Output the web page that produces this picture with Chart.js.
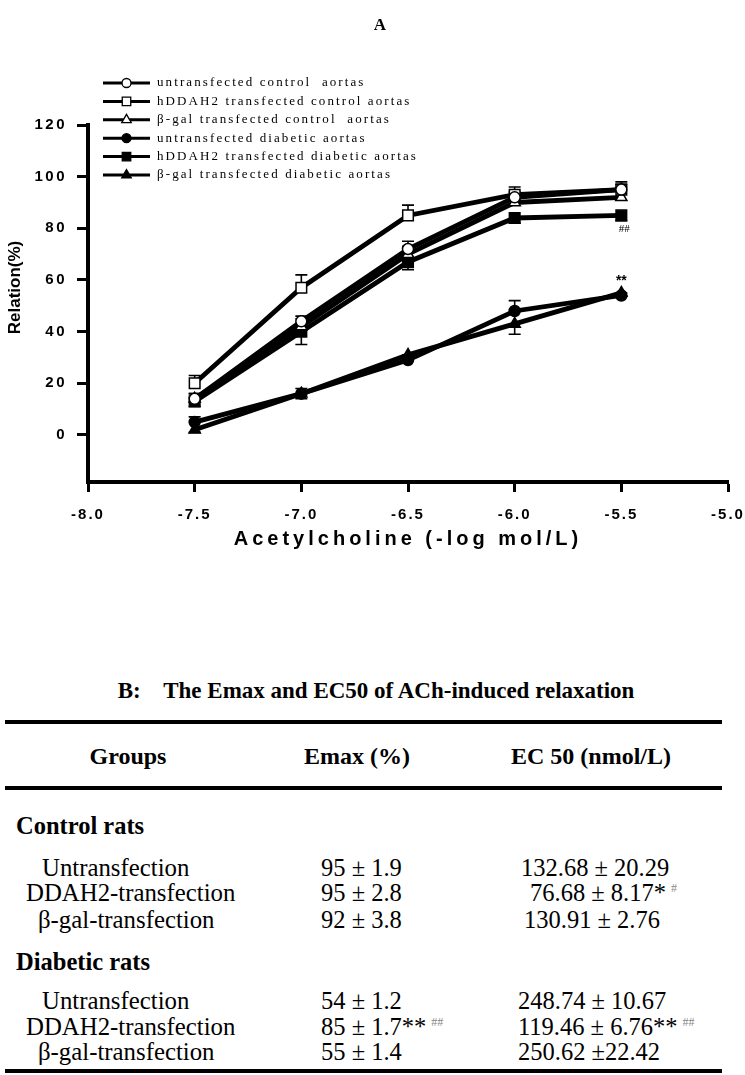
<!DOCTYPE html>
<html><head><meta charset="utf-8">
<script src="https://cdn.jsdelivr.net/npm/chart.js@4.4.1/dist/chart.umd.min.js"></script>
<style>
html,body{margin:0;padding:0;background:#fff;}
body{width:745px;height:1075px;position:relative;overflow:hidden;}
#chartBox{position:absolute;left:0;top:0;width:745px;height:580px;}
.t{position:absolute;white-space:pre;font-family:"Liberation Serif","Times New Roman",serif;color:#000;line-height:1;}
.b{font-weight:bold;}
.rule{position:absolute;left:5px;width:717px;background:#000;}
.sup{color:#888;font-size:12px;position:relative;top:-9px;margin-left:5px;}
</style></head><body>
<div id="chartBox"><canvas id="c" width="745" height="580"></canvas></div>
<div id="table"></div>
<script>
// ---------- data ----------
const doses = [-7.5, -7.0, -6.5, -6.0, -5.5];
const xTicks = [-8.0, -7.5, -7.0, -6.5, -6.0, -5.5, -5.0];
const yTicks = [0, 20, 40, 60, 80, 100, 120];
const seriesNames = ['untransfected control  aortas', 'hDDAH2 transfected control aortas', 'β-gal transfected control  aortas',
                     'untransfected diabetic aortas', 'hDDAH2 transfected diabetic aortas', 'β-gal transfected diabetic aortas'];
const untransControl  = [14, 44, 72, 92, 95];
const ddahControl     = [20, 57, 85, 93, 95];
const bgalControl     = [14, 42, 70, 90, 92];
const untransDiabetic = [5, 16, 29, 48, 54];
const ddahDiabetic    = [13, 40, 67, 84, 85];
const bgalDiabetic    = [2, 16, 31, 43, 55];
const semUntransControl  = [2, 2, 3, 2, 2];
const semDdahControl     = [3, 5, 4, 3, 3];
const semBgalControl     = [2, 3, 3, 2, 4];
const semUntransDiabetic = [2, 2, 2, 4, 1];
const semDdahDiabetic    = [2, 5, 3, 2, 2];
const semBgalDiabetic    = [1, 2, 2, 4, 1];
const errDirection = [1, 1, 1, 1, -1, -1];
const annotText = ['##', '**'];
const annotX = [-5.5, -5.5];
const annotY = [85, 55];
const panelTitle = 'A';

const tableTitle = 'B:    The Emax and EC50 of ACh-induced relaxation';
const tableHeaders = ['Groups', 'Emax (%)', 'EC 50 (nmol/L)'];
const groupNames = ['Control rats', 'Diabetic rats'];
const rowLabels = ['Untransfection', 'DDAH2-transfection', 'β-gal-transfection'];
const emaxControl = ['95 ± 1.9', '95 ± 2.8', '92 ± 3.8'];
const emaxControlMark = ['', '', ''];
const ec50Control = ['132.68 ± 20.29', '76.68 ± 8.17*', '130.91 ± 2.76'];
const ec50ControlMark = ['', '#', ''];
const emaxDiabetic = ['54 ± 1.2', '85 ± 1.7**', '55 ± 1.4'];
const emaxDiabeticMark = ['', '##', ''];
const ec50Diabetic = ['248.74 ± 10.67', '119.46 ± 6.76**', '250.62 ±22.42'];
const ec50DiabeticMark = ['', '##', ''];

// ---------- styles ----------
const seriesValues = [untransControl, ddahControl, bgalControl, untransDiabetic, ddahDiabetic, bgalDiabetic];
const seriesSem = [semUntransControl, semDdahControl, semBgalControl, semUntransDiabetic, semDdahDiabetic, semBgalDiabetic];
const markers = [
  {style:'circle', fill:'#fff', r:5.5, lr:4.5},
  {style:'rect', fill:'#fff', r:7.5, lr:6},
  {style:'triangle', fill:'#fff', r:6.5, lr:5.5},
  {style:'circle', fill:'#000', r:5.5, lr:4.5},
  {style:'rect', fill:'#000', r:7.5, lr:6},
  {style:'triangle', fill:'#000', r:6.5, lr:5.5}
];

const datasets = seriesValues.map((arr, i) => ({
  label: seriesNames[i],
  data: doses.map((d, j) => ({x: d, y: arr[j]})),
  borderColor: '#000',
  borderWidth: 4.8,
  pointStyle: markers[i].style,
  pointRadius: markers[i].r,
  pointBackgroundColor: markers[i].fill,
  pointBorderColor: '#000',
  pointBorderWidth: 1.5,
  tension: 0,
  fill: false
}));

function wrapDraw(scale, fn, spacing, dy) {
  const key = '__w_' + fn;
  if (scale[key]) return;
  const orig = scale[fn];
  scale[fn] = function () {
    const ctx = this.ctx;
    ctx.save();
    if ('letterSpacing' in ctx) ctx.letterSpacing = spacing;
    if (dy) ctx.translate(0, dy);
    orig.apply(this, arguments);
    ctx.restore();
  };
  scale[key] = true;
}

const spacingPlugin = {
  id: 'spacing',
  beforeDraw(chart) {
    wrapDraw(chart.scales.x, 'drawLabels', '2px');
    wrapDraw(chart.scales.x, 'drawTitle', '4px');
    wrapDraw(chart.scales.y, 'drawLabels', '2.5px');
    wrapDraw(chart.scales.y, 'drawTitle', '0px', -16);
  }
};

const errorBarPlugin = {
  id: 'errorBars',
  beforeDatasetsDraw(chart) {
    const {ctx, scales: {x, y}} = chart;
    ctx.save();
    ctx.strokeStyle = '#000';
    ctx.lineWidth = 1.6;
    seriesValues.forEach((arr, i) => {
      arr.forEach((v, j) => {
        const px = x.getPixelForValue(doses[j]);
        const p0 = y.getPixelForValue(v);
        const p1 = y.getPixelForValue(v + errDirection[i] * seriesSem[i][j]);
        ctx.beginPath();
        ctx.moveTo(px, p0); ctx.lineTo(px, p1);
        ctx.moveTo(px - 6, p1); ctx.lineTo(px + 6, p1);
        ctx.stroke();
      });
    });
    ctx.restore();
  }
};

const legendPlugin = {
  id: 'figLegend',
  afterDraw(chart) {
    const ctx = chart.ctx;
    const x0 = chart.chartArea.left + 15, x1 = x0 + 47, xm = (x0 + x1) / 2, tx = x1 + 7;
    ctx.save();
    seriesNames.forEach((name, i) => {
      const yy = 83 + i * 18.4;
      ctx.strokeStyle = '#000';
      ctx.lineWidth = 3;
      ctx.beginPath(); ctx.moveTo(x0, yy); ctx.lineTo(x1, yy); ctx.stroke();
      ctx.fillStyle = markers[i].fill;
      ctx.lineWidth = 1.3;
      Chart.helpers.drawPoint(ctx, {pointStyle: markers[i].style, radius: markers[i].lr, rotation: 0, borderWidth: 1.3}, xm, yy);
      ctx.fillStyle = '#000';
      ctx.font = '13px "Liberation Serif", serif';
      if ('letterSpacing' in ctx) ctx.letterSpacing = '2.1px';
      ctx.textBaseline = 'middle';
      ctx.textAlign = 'left';
      ctx.fillText(name, tx, yy);
      if ('letterSpacing' in ctx) ctx.letterSpacing = '0px';
    });
    // panel letter
    ctx.font = 'bold 17px "Liberation Serif", serif';
    ctx.textAlign = 'center';
    ctx.textBaseline = 'middle';
    ctx.fillText(panelTitle, 380, 26);
    ctx.restore();
  }
};

const annotPlugin = {
  id: 'annot',
  afterDatasetsDraw(chart) {
    const {ctx, scales: {x, y}} = chart;
    ctx.save();
    ctx.fillStyle = '#000';
    ctx.textAlign = 'center';
    ctx.textBaseline = 'middle';
    annotText.forEach((t, i) => {
      const px = x.getPixelForValue(annotX[i]);
      const py = y.getPixelForValue(annotY[i]);
      if (t === '##') { ctx.font = '11px "Liberation Serif", serif'; ctx.fillText(t, px + 3, py + 14); }
      else { ctx.font = 'bold 14px "Liberation Sans", sans-serif'; ctx.fillText(t, px, py - 12); }
    });
    ctx.restore();
  }
};

new Chart(document.getElementById('c'), {
  type: 'line',
  data: {datasets},
  options: {
    responsive: false,
    animation: false,
    devicePixelRatio: 1,
    layout: {padding: {top: 125, left: 0, right: 17, bottom: 18}},
    plugins: {
      legend: {display: false},
      tooltip: {enabled: false},
      title: {display: false}
    },
    scales: {
      x: {
        type: 'linear', min: -8.0, max: -5.0,
        afterBuildTicks: s => { s.ticks = xTicks.map(v => ({value: v})); },
        afterFit: s => { s.height = 80; s.paddingLeft = 0; s.paddingRight = 0; },
        grid: {display: true, drawOnChartArea: false, drawTicks: true, tickLength: 10, tickWidth: 3, tickColor: '#000', color: '#000'},
        border: {display: true, color: '#000', width: 4},
        ticks: {color: '#000', padding: 14, maxRotation: 0, autoSkip: false, font: {family: 'Liberation Sans', weight: 'bold', size: 15}, callback: v => v.toFixed(1)},
        title: {display: true, text: 'Acetylcholine (-log mol/L)', color: '#000', font: {family: 'Liberation Sans', weight: 'bold', size: 20, lineHeight: 1.2}, padding: {top: 0, bottom: 11}}
      },
      y: {
        type: 'linear', min: -18.2, max: 120,
        afterBuildTicks: s => { s.ticks = yTicks.map(v => ({value: v})); },
        afterFit: s => { s.width = 88; s.paddingTop = 0; s.paddingBottom = 0; },
        grid: {display: true, drawOnChartArea: false, drawTicks: true, tickLength: 11, tickWidth: 3, tickColor: '#000', color: '#000'},
        border: {display: true, color: '#000', width: 4},
        ticks: {color: '#000', padding: 10, font: {family: 'Liberation Sans', weight: 'bold', size: 15}, callback: v => String(v)},
        title: {display: true, text: 'Relation(%)', color: '#000', font: {family: 'Liberation Sans', weight: 'bold', size: 17, lineHeight: 1.2}, padding: {top: 5, bottom: 0}}
      }
    }
  },
  plugins: [spacingPlugin, errorBarPlugin, annotPlugin, legendPlugin]
});

// ---------- table B ----------
const T = document.getElementById('table');
function put(text, left, cy, size, bold, mark, center) {
  const d = document.createElement('div');
  d.className = 't' + (bold ? ' b' : '');
  d.style.fontSize = size + 'px';
  d.style.top = (cy - size / 2) + 'px';
  d.style.left = left + 'px';
  if (center) d.style.transform = 'translateX(-50%)';
  d.appendChild(document.createTextNode(text));
  if (mark) { const s = document.createElement('span'); s.className = 'sup'; s.textContent = mark; d.appendChild(s); }
  T.appendChild(d);
}
function rule(y, h) { const r = document.createElement('div'); r.className = 'rule'; r.style.top = (y - h / 2) + 'px'; r.style.height = h + 'px'; T.appendChild(r); }

put(tableTitle, 376, 690, 23, true, '', true);
rule(722, 4);
put(tableHeaders[0], 128, 756, 24, true, '', true);
put(tableHeaders[1], 357, 756, 24, true, '', true);
put(tableHeaders[2], 591, 756, 24, true, '', true);
rule(788, 4);
const labelLeft = [42, 26, 38];
const ctrlRows = [868, 893, 920];
const diabRows = [1001, 1027, 1052];
const ec50LeftCtrl = [521, 530, 524];
const ec50LeftDiab = [518, 518, 518];
put(groupNames[0], 16, 826, 24.5, true);
rowLabels.forEach((lab, i) => {
  put(lab, labelLeft[i], ctrlRows[i], 24.8, false);
  put(emaxControl[i], 321, ctrlRows[i], 24.5, false, emaxControlMark[i]);
  put(ec50Control[i], ec50LeftCtrl[i], ctrlRows[i], 24.5, false, ec50ControlMark[i]);
});
put(groupNames[1], 16, 962, 24.5, true);
rowLabels.forEach((lab, i) => {
  put(lab, labelLeft[i], diabRows[i], 24.8, false);
  put(emaxDiabetic[i], 321, diabRows[i], 24.5, false, emaxDiabeticMark[i]);
  put(ec50Diabetic[i], ec50LeftDiab[i], diabRows[i], 24.5, false, ec50DiabeticMark[i]);
});
rule(1071, 4);
</script>
</body></html>
